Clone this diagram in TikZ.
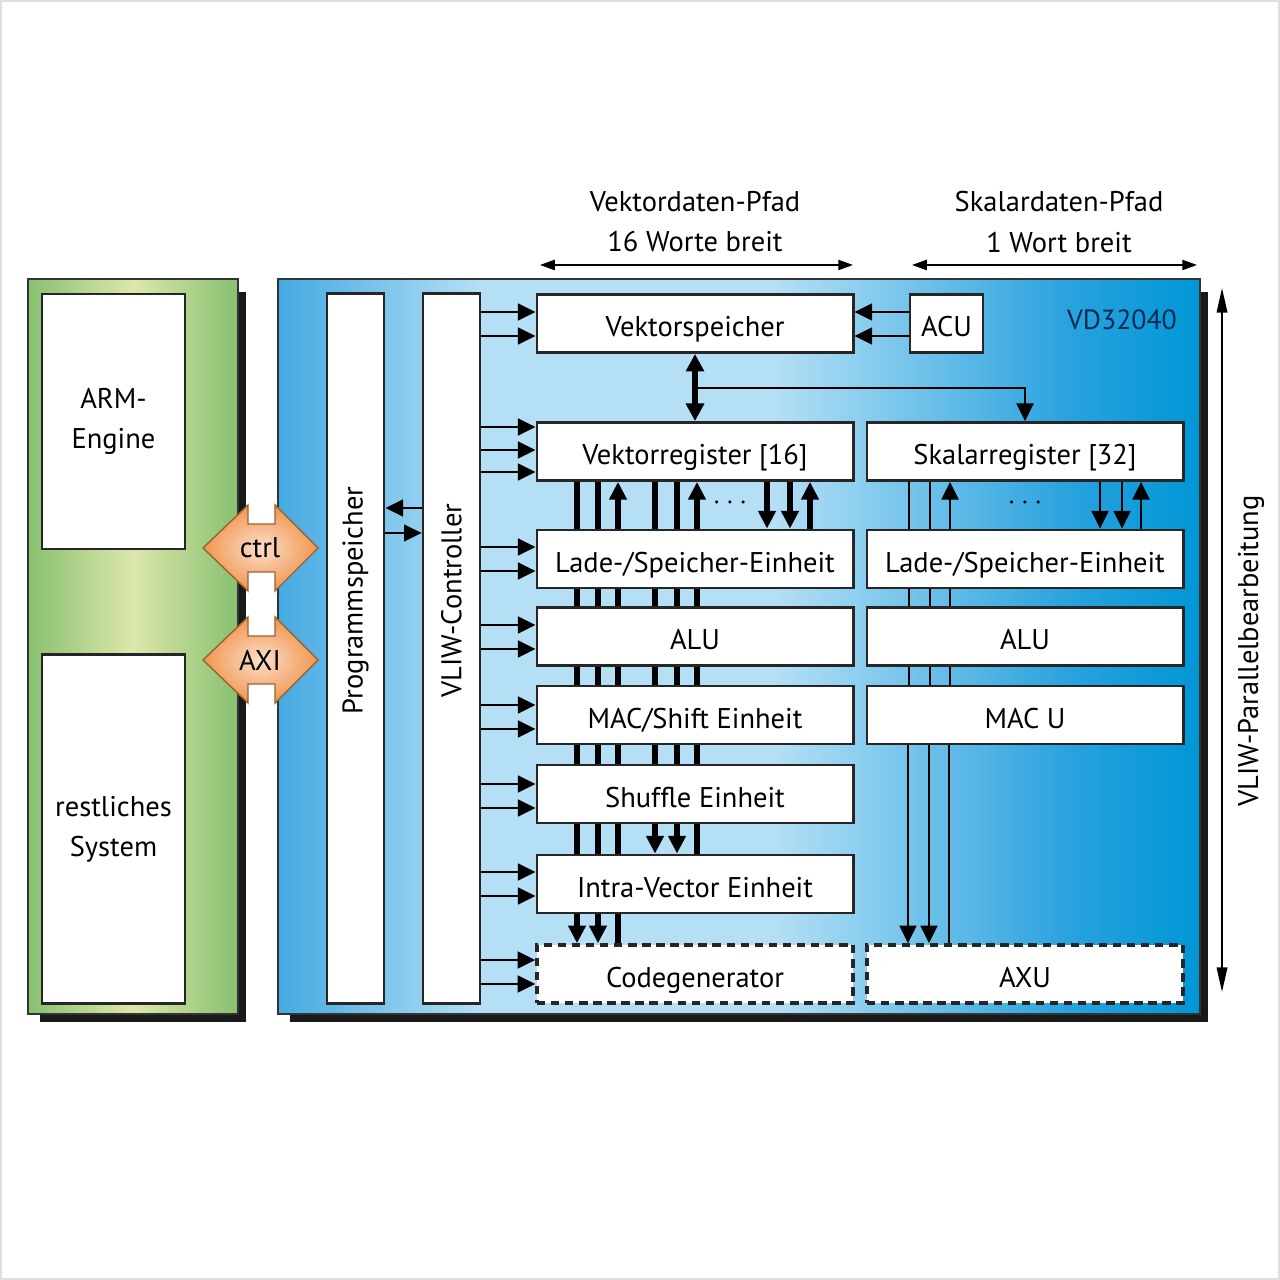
\documentclass[tikz,border=0pt]{standalone}
\usepackage{fontspec}
\setmainfont{PT Sans}
\usetikzlibrary{arrows.meta,positioning}

\definecolor{vdL}{RGB}{68,170,226}
\definecolor{vdM}{RGB}{180,223,245}
\definecolor{vdS}{RGB}{40,162,222}
\definecolor{vdR}{RGB}{0,150,214}
\definecolor{armG}{RGB}{136,192,112}
\definecolor{armM}{RGB}{220,231,172}
\definecolor{busO}{RGB}{240,150,76}
\definecolor{busI}{RGB}{251,222,204}
\definecolor{chiptext}{RGB}{6,42,84}

\pgfdeclarehorizontalshading{vdblue}{100bp}{color(0bp)=(vdL); color(25bp)=(vdL); color(36bp)=(vdM); color(52bp)=(vdM); color(68bp)=(vdS); color(75bp)=(vdR); color(100bp)=(vdR)}

\tikzset{
  chipframe/.style={draw=black!80, line width=0.6pt, inner sep=0pt},
  sysbox/.style={draw=black!85, fill=white, line width=0.8pt, inner sep=0pt,
    minimum width=1.43cm, align=center},
  tallbox/.style={draw=black!85, fill=white, line width=0.8pt, inner sep=0pt,
    rotate=90, minimum width=7.09cm, minimum height=0.57cm},
  unit/.style={draw=black!85, fill=white, line width=0.8pt, inner sep=0pt,
    minimum width=3.16cm, minimum height=0.58cm, text height=7.4pt, text depth=0pt},
  xunit/.style={unit, line width=1pt, dash pattern=on 2.4pt off 1.6pt},
  ctl/.style={line width=0.6pt, -{Triangle[length=5pt,width=4.8pt]}},
  vbus/.style={line width=1.5pt},
  sbus/.style={line width=0.6pt},
  bustip/.style={-{Triangle[length=5pt,width=4.8pt]}},
  dim/.style={line width=0.5pt, {Triangle[length=4.2pt,width=2.9pt]}-{Triangle[length=4.2pt,width=2.9pt]}},
}

\begin{document}
\begin{tikzpicture}[x=0.01cm, y=-0.01cm, font=\fontsize{8.1}{11.4}\selectfont]
\useasboundingbox (0,0) rectangle (1280,1280);
\draw[black!12, line width=0.8pt] (1,1) rectangle (1279,1279);

% Schatten und Rahmen
\fill[black!90] (40,292) rectangle (246,1022);
\fill[black!90] (290,292) rectangle (1208,1022);
\node[chipframe, left color=armG, right color=armG, middle color=armM,
  minimum width=2.10cm, minimum height=7.35cm] (armsys) at (133,646.5) {};
\node[chipframe, shade, shading=vdblue,
  minimum width=9.22cm, minimum height=7.35cm] (vd) at (739,646.5) {};
\node[text=chiptext, font=\fontsize{7.9}{10}\selectfont] (chip) at (1122,320) {VD32040};

% ARM-Seite
\node[sysbox, minimum height=2.55cm] (armeng) at (113.5,421.5) {ARM-\\Engine};
\node[sysbox, minimum height=3.48cm] (restsys) at (113.5,829) {restliches\\System};

% ctrl und AXI
\foreach \y/\t in {548/ctrl,660/AXI}{
  \path[draw=busO!65!black, line width=0.4pt, inner color=busI, outer color=busO]
    (203,\y) -- (248,\y-43) -- (248,\y-24) -- (275,\y-24) -- (275,\y-43) -- (318,\y)
    -- (275,\y+43) -- (275,\y+24) -- (248,\y+24) -- (248,\y+43) -- cycle;
  \node (if\t) at (260,\y) {\t};
}

% Speicher und Steuerung
\node[tallbox] (pmem) at (355.5,648.5) {\hspace*{0.96cm}Programmspeicher};
\node[tallbox] (vliw) at (451.5,648.5) {\hspace*{0.96cm}VLIW-Controller};

% Vektordaten-Pfad
\node[unit] (vmem) at (695,323.5) {Vektorspeicher};
\node[unit] (vreg) at (695,451.5) {Vektorregister [16]};
\node[unit] (vls) at (695,559) {Lade-/Speicher-Einheit};
\node[unit] (valu) at (695,636.5) {ALU};
\node[unit] (vmac) at (695,715) {MAC/Shift Einheit};
\node[unit] (vshuf) at (695,794) {Shuffle Einheit};
\node[unit] (vintra) at (695,884) {Intra-Vector Einheit};
\node[xunit] (vcode) at (695,974) {Codegenerator};

% Skalardaten-Pfad
\node[unit, minimum width=0.73cm] (acu) at (946.5,323.5) {ACU};
\node[unit] (sreg) at (1025,451.5) {Skalarregister [32]};
\node[unit] (sls) at (1025,559) {Lade-/Speicher-Einheit};
\node[unit] (salu) at (1025,636.5) {ALU};
\node[unit] (smac) at (1025,715) {MAC U};
\node[xunit] (saxu) at (1025,974) {AXU};

% Pfadbreiten
\node[align=center] (vtitle) at (695,222) {Vektordaten-Pfad\\16 Worte breit};
\node[align=center] (stitle) at (1059,222) {Skalardaten-Pfad\\1 Wort breit};
\coordinate (vl) at (540,265);
\coordinate (vr) at (853,265);
\coordinate (sl) at (912,265);
\coordinate (sr) at (1197,265);
\draw[dim] (vl) -- (vr);
\draw[dim] (sl) -- (sr);
\coordinate (ptop) at (1222,288);
\coordinate (pbot) at (1222,992);
\draw[line width=0.5pt, {Triangle[length=7pt,width=3pt]}-{Triangle[length=7pt,width=3pt]}] (ptop) -- (pbot);
\node[rotate=90] (para) at (1251,651) {VLIW-Parallelbearbeitung};

% Steuerleitungen
\draw[ctl] (vliw.north |- 0,508) -- (pmem.south |- 0,508);
\draw[ctl] (pmem.south |- 0,533) -- (vliw.north |- 0,533);
\foreach \u/\ys in {vmem/{312,336}, vreg/{427,450,472}, vls/{547,571}, valu/{625,649},
    vmac/{705,729}, vshuf/{784,808}, vintra/{872,896}, vcode/{960,984}}
  \foreach \y in \ys
    \draw[ctl] (vliw.south |- 0,\y) -- (\u.west |- 0,\y);
\foreach \y in {312,336}
  \draw[ctl] (acu.west |- 0,\y) -- (vmem.east |- 0,\y);

% Vektorspeicher - Register
\draw[vbus, {Triangle[length=5pt,width=5pt]}-{Triangle[length=5pt,width=5pt]}] (vmem.south) -- (vreg.north);
\coordinate (vfork) at (695,388);
\draw[ctl, line width=0.7pt] (vfork) -| (sreg.north);

% Vektorbusse
\foreach \x in {577,598,655,677}
  \draw[vbus] (\x,0 |- vreg.south) -- (\x,0 |- vls.north);
\foreach \x in {618,697,810}
  \draw[vbus, bustip] (\x,0 |- vls.north) -- (\x,0 |- vreg.south);
\foreach \x in {767,790}
  \draw[vbus, bustip] (\x,0 |- vreg.south) -- (\x,0 |- vls.north);
\node (vdots) at (730,503) {$\cdots$};
\foreach \a/\b in {vls/valu, valu/vmac, vmac/vshuf}
  \foreach \x in {577,598,618,655,677,697}
    \draw[vbus] (\x,0 |- \a.south) -- (\x,0 |- \b.north);
\foreach \x in {577,598,618,697}
  \draw[vbus] (\x,0 |- vshuf.south) -- (\x,0 |- vintra.north);
\foreach \x in {655,677}
  \draw[vbus, bustip] (\x,0 |- vshuf.south) -- (\x,0 |- vintra.north);
\foreach \x in {577,598}
  \draw[vbus, bustip] (\x,0 |- vintra.south) -- (\x,0 |- vcode.north);
\draw[vbus] (618,0 |- vintra.south) -- (618,0 |- vcode.north);

% Skalarbusse
\foreach \x in {909,930}
  \draw[sbus] (\x,0 |- sreg.south) -- (\x,0 |- sls.north);
\foreach \x in {950,1141}
  \draw[sbus, bustip] (\x,0 |- sls.north) -- (\x,0 |- sreg.south);
\foreach \x in {1100,1122}
  \draw[sbus, bustip] (\x,0 |- sreg.south) -- (\x,0 |- sls.north);
\node (sdots) at (1025,503) {$\cdots$};
\foreach \a/\b in {sls/salu, salu/smac}
  \foreach \x in {909,930,950}
    \draw[sbus] (\x,0 |- \a.south) -- (\x,0 |- \b.north);
\foreach \x in {908,929}
  \draw[sbus, bustip] (\x,0 |- smac.south) -- (\x,0 |- saxu.north);
\draw[sbus] (949,0 |- smac.south) -- (949,0 |- saxu.north);
\end{tikzpicture}
\end{document}
